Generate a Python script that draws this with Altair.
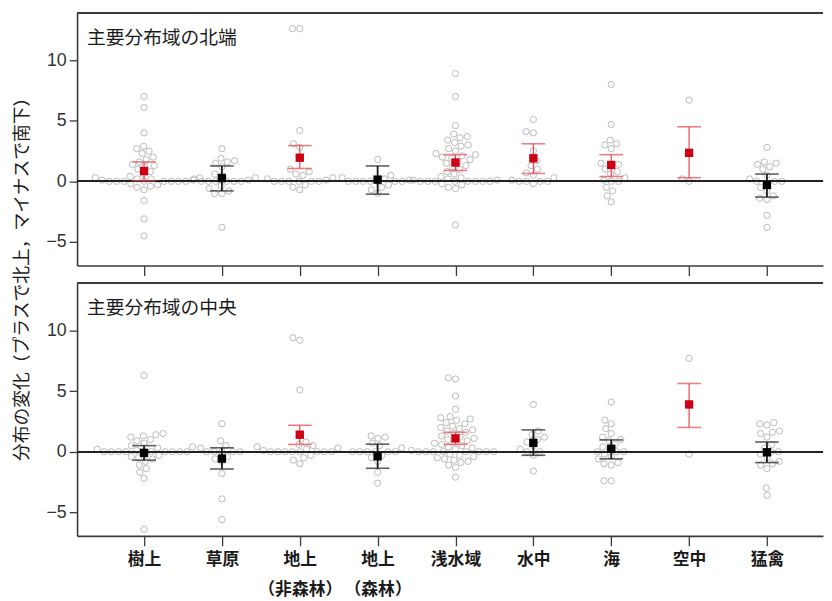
import json
import math
import altair as alt
import pandas as pd

# ---------------- data ----------------
CATEGORY_LINES = [["樹上"], ["草原"], ["地上", "（非森林）"], ["地上", "（森林）"],
                  ["浅水域"], ["水中"], ["海"], ["空中"], ["猛禽"]]

PANEL_NAMES = ["主要分布域の北端", "主要分布域の中央"]
Y_TITLE = "分布の変化（プラスで北上，マイナスで南下）"

NORTH_VALUES = [
    [7.0, 6.1, 4.0, 2.9, 2.7, 2.5, 2.3, 2.0, 1.8, 1.6, 1.4, 1.3, 1.2, 1.0, 0.8, 0.6, 0.4, 0.3, 0.3,
     0.2, 0.2, 0.1, 0.1, 0.0, 0.0, 0.0, 0.0, 0.0, 0.0, 0.0, 0.0, -0.2, -0.3, -0.4, -0.5, -0.7,
     -1.6, -3.1, -4.5],
    [2.7, 1.9, 1.7, 1.6, 1.5, 1.2, 0.6, 0.5, 0.3, 0.2, 0.1, 0.0, 0.0, 0.0, 0.0, 0.0, 0.0, -0.4,
     -0.6, -0.8, -1.0, -1.0, -3.8],
    [12.6, 12.6, 4.2, 3.1, 2.8, 1.0, 0.8, 0.6, 0.5, 0.3, 0.2, 0.1, 0.0, 0.0, 0.0, 0.0, 0.0, 0.0,
     -0.3, -0.5, -0.7],
    [1.8, 0.5, 0.3, 0.2, 0.1, 0.0, 0.0, 0.0, 0.0, 0.0, 0.0, 0.0, -0.3, -0.5, -0.7, -1.0],
    [8.9, 7.0, 4.6, 3.9, 3.7, 3.6, 3.4, 3.2, 3.0, 2.9, 2.7, 2.5, 2.3, 2.2, 2.1, 2.0, 1.9, 1.8,
     1.6, 1.5, 1.3, 1.2, 1.0, 0.8, 0.6, 0.4, 0.3, 0.2, 0.1, 0.1, 0.0, 0.0, 0.0, 0.0, 0.0, 0.0,
     0.0, 0.0, -0.2, -0.3, -0.5, -0.6, -3.6],
    [5.1, 4.1, 4.0, 2.5, 1.7, 1.3, 1.0, 0.7, 0.5, 0.3, 0.1, 0.0, 0.0, 0.0, 0.0, -0.2],
    [8.0, 4.7, 3.4, 3.1, 3.0, 2.7, 1.5, 1.4, 1.3, 1.0, 0.8, 0.6, 0.3, 0.1, 0.0, 0.0, -0.5, -0.8,
     -1.2, -1.7],
    [6.7, 0.2, 0.0],
    [2.8, 1.6, 1.5, 1.4, 1.2, 1.0, 0.5, 0.2, 0.0, 0.0, 0.0, -0.2, -0.5, -0.8, -1.2, -1.4, -1.5,
     -2.8, -3.8],
]
CENTER_VALUES = [
    [6.3, 1.5, 1.4, 1.3, 1.2, 1.0, 0.9, 0.7, 0.5, 0.4, 0.3, 0.2, 0.1, 0.0, 0.0, 0.0, 0.0, 0.0,
     0.0, 0.0, 0.0, 0.0, 0.0, -0.3, -0.4, -0.5, -0.6, -0.8, -1.1, -1.4, -1.7, -2.2, -6.4],
    [2.3, 0.9, 0.5, 0.3, 0.0, 0.0, 0.0, 0.0, 0.0, -0.4, -0.6, -0.8, -1.8, -3.9, -5.6],
    [9.4, 9.2, 5.1, 0.8, 0.6, 0.5, 0.4, 0.3, 0.2, 0.1, 0.0, 0.0, 0.0, 0.0, 0.0, 0.0, 0.0, 0.0,
     -0.3, -0.5, -0.7, -1.0],
    [1.3, 1.2, 1.1, 0.7, 0.5, 0.3, 0.0, 0.0, 0.0, 0.0, 0.0, 0.0, -0.3, -0.5, -0.8, -1.7, -2.6],
    [6.1, 6.0, 4.6, 3.5, 2.9, 2.8, 2.7, 2.6, 2.4, 2.3, 2.1, 2.0, 1.9, 1.8, 1.7, 1.6, 1.5, 1.3,
     1.2, 1.1, 1.0, 0.9, 0.8, 0.7, 0.6, 0.5, 0.4, 0.3, 0.2, 0.1, 0.0, 0.0, 0.0, 0.0, 0.0, 0.0,
     0.0, 0.0, -0.2, -0.3, -0.4, -0.5, -0.6, -0.7, -0.8, -0.9, -1.1, -1.3, -2.1],
    [3.9, 1.7, 1.4, 1.2, 1.0, 0.8, 0.5, 0.2, 0.0, 0.0, -0.3, -1.6],
    [4.1, 2.6, 2.3, 1.9, 1.5, 1.2, 1.0, 0.9, 0.6, 0.4, 0.2, 0.0, 0.0, 0.0, -0.2, -0.4, -0.6,
     -0.9, -1.0, -1.1, -2.4, -2.4],
    [7.7, -0.2],
    [2.4, 2.3, 2.2, 1.7, 1.6, 1.5, 1.2, 0.6, 0.3, 0.0, 0.0, -0.2, -0.5, -0.8, -1.0, -1.1, -1.4,
     -3.0, -3.6],
]

NORTH_MEAN = [0.85, 0.27, 1.95, 0.14, 1.55, 1.9, 1.35, 2.35, -0.3]
NORTH_LO = [0.05, -0.79, 1.06, -1.06, 0.9, 0.65, 0.4, 0.3, -1.3]
NORTH_HI = [1.6, 1.27, 2.95, 1.27, 2.2, 3.1, 2.2, 4.5, 0.6]
NORTH_SIG = ["yes", "no", "yes", "no", "yes", "yes", "yes", "yes", "no"]

CENTER_MEAN = [-0.1, -0.57, 1.4, -0.38, 1.1, 0.73, 0.24, 3.9, -0.05]
CENTER_LO = [-0.7, -1.43, 0.6, -1.37, 0.6, -0.3, -0.59, 2.0, -0.9]
CENTER_HI = [0.5, 0.32, 2.18, 0.62, 1.6, 1.8, 0.97, 5.63, 0.8]
CENTER_SIG = ["no", "no", "yes", "no", "yes", "no", "no", "yes", "no"]

# ---------------- layout / style ----------------
FONT = "Noto Sans CJK JP"
W, H = 756, 256
XDOM = [-0.86, 8.72]
YDOM = [-6.95, 13.9]
STEP = W / (XDOM[1] - XDOM[0])
PXU = H / (YDOM[1] - YDOM[0])
DIAM = 7.4
FRAME = "#3a3a3a"


def swarm_offsets(values):
    """Beeswarm layout: horizontal pixel offsets so that circles do not overlap."""
    placed = []
    offs = [0.0] * len(values)
    for i in sorted(range(len(values)), key=lambda k: values[k]):
        y = values[i] * PXU
        cands = [0.0]
        for px, py in placed:
            dy = abs(py - y)
            if dy < DIAM:
                dx = math.sqrt(DIAM * DIAM - dy * dy)
                cands += [px + dx, px - dx]
        cands.sort(key=lambda c: (round(abs(c), 6), c))
        x = 0.0
        for c in cands:
            if all((c - px) ** 2 + (y - py) ** 2 >= DIAM * DIAM - 1e-6 for px, py in placed):
                x = c
                break
        placed.append((x, y))
        offs[i] = x
    return offs


LABEL_EXPR = json.dumps(CATEGORY_LINES, ensure_ascii=False) + "[datum.value]"


def panel(name, values, mean, lo, hi, sig, bottom):
    pts = []
    for ci, vals in enumerate(values):
        for v, o in zip(vals, swarm_offsets(vals)):
            pts.append({"x": ci + o / STEP, "v": v})
    pts = pd.DataFrame(pts)
    summ = pd.DataFrame({"x": list(range(len(mean))), "m": mean, "lo": lo, "hi": hi, "sig": sig})

    xaxis = alt.Axis(values=list(range(9)), tickSize=10, tickColor=FRAME, tickWidth=1.3,
                     domainColor=FRAME, domainWidth=1.6, grid=False, title=None,
                     labels=bottom, labelExpr=LABEL_EXPR, labelFont=FONT, labelFontSize=17,
                     labelColor="#1a1a1a", labelPadding=6, labelLineHeight=30,
                     labelOverlap=False, labelFontWeight="bold")
    yaxis_kw = dict(values=[-5, 0, 5, 10], tickSize=8, tickColor=FRAME, tickWidth=1.3,
                    domainColor=FRAME, domainWidth=1.6, grid=False, labelFont="Liberation Sans",
                    labelFontSize=18, labelColor="#333333", labelPadding=3)
    if not bottom:
        yaxis = alt.Axis(title=Y_TITLE, titleFont=FONT, titleFontSize=18,
                         titleFontWeight="normal", titleColor="#1a1a1a", titleX=-55,
                         titleY=H + 9, titleBaseline="middle", **yaxis_kw)
    else:
        yaxis = alt.Axis(title=None, **yaxis_kw)

    xs = alt.Scale(domain=XDOM, nice=False, zero=False)
    ys = alt.Scale(domain=YDOM, nice=False, zero=False)

    dots = alt.Chart(pts).mark_point(shape="circle", filled=False, size=40, color="#b9b9b9",
                                     strokeWidth=1, opacity=1).encode(
        x=alt.X("x:Q", scale=xs, axis=xaxis),
        y=alt.Y("v:Q", scale=ys, axis=yaxis),
    )
    zero = alt.Chart(summ).mark_rule(color="#222222", strokeWidth=1.5).encode(y=alt.datum(0))
    top = alt.Chart(summ).mark_rule(color=FRAME, strokeWidth=1.6).encode(y=alt.datum(YDOM[1]))

    sig_col = alt.Color("sig:N", scale=alt.Scale(domain=["yes", "no"], range=["#e8474f", "#1a1a1a"]),
                        legend=None)
    sig_w = alt.StrokeWidth("sig:N", scale=alt.Scale(domain=["yes", "no"], range=[1.2, 1.8]),
                            legend=None)
    bars = alt.Chart(summ).mark_rule().encode(x="x:Q", y="lo:Q", y2="hi:Q", color=sig_col,
                                              strokeWidth=sig_w)
    cap_hi = alt.Chart(summ).mark_tick(orient="horizontal", size=24, thickness=1.6).encode(
        x="x:Q", y="hi:Q", color=sig_col)
    cap_lo = alt.Chart(summ).mark_tick(orient="horizontal", size=24, thickness=1.6).encode(
        x="x:Q", y="lo:Q", color=sig_col)
    squares = alt.Chart(summ).mark_square(size=72, opacity=1).encode(
        x="x:Q", y="m:Q",
        color=alt.Color("sig:N", scale=alt.Scale(domain=["yes", "no"], range=["#cc0014", "#000000"]),
                        legend=None))
    label = alt.Chart(pd.DataFrame({"t": [name]})).mark_text(
        align="left", baseline="middle", font=FONT, fontSize=19, color="#1a1a1a").encode(
        text="t:N", x=alt.value(10), y=alt.value(25))

    return alt.layer(dots, zero, top, bars, cap_hi, cap_lo, squares, label).resolve_scale(
        color="independent").properties(width=W, height=H)


north = panel(PANEL_NAMES[0], NORTH_VALUES, NORTH_MEAN, NORTH_LO, NORTH_HI, NORTH_SIG, False)
center = panel(PANEL_NAMES[1], CENTER_VALUES, CENTER_MEAN, CENTER_LO, CENTER_HI, CENTER_SIG, True)

chart = alt.vconcat(north, center, spacing=18, bounds="flush").properties(
    padding={"left": 5, "top": 0, "right": 0, "bottom": 0}
).configure_view(stroke=None)

chart.save("out.html", embed_options={"renderer": "svg", "actions": False})
